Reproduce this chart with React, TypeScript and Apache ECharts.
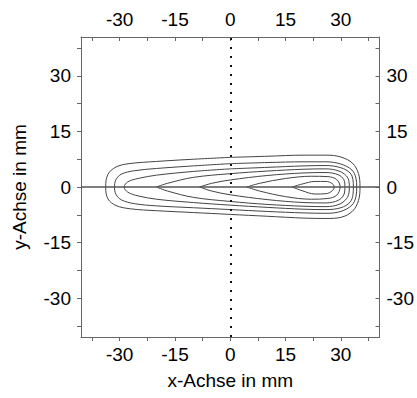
import React, { useEffect, useRef } from "react";
import * as echarts from "echarts";

const majorTicks = [-30, -15, 0, 15, 30];
const minorTicks = [-37.5, -30, -22.5, -15, -7.5, 0, 7.5, 15, 22.5, 30, 37.5];
const axisMin = -40.5;
const axisMax = 40.5;

const contour1 = [[0,8.0],[10,8.3],[20,8.6],[26,8.6],[30,8.1],[33.2,6.4],[34.8,3.6],[35.2,0],[34.8,-3.6],[33.2,-6.5],[30,-8.2],[26,-8.5],[20,-8.4],[10,-7.9],[0,-7.4],[-10,-6.9],[-20,-6.4],[-27,-5.9],[-31,-5.0],[-33.2,-3.2],[-33.8,0],[-33.2,3.4],[-31,5.4],[-27.5,6.3],[-20,6.9],[-10,7.5]];
const contour2 = [[0,6.3],[10,6.6],[20,6.8],[26,6.8],[30,6.2],[33,4.6],[34.1,2.4],[34.3,0],[34.1,-2.6],[33,-4.9],[30,-6.6],[26,-7.1],[20,-7.0],[10,-6.6],[0,-6.1],[-10,-5.6],[-20,-5.1],[-26,-4.5],[-29.5,-3.5],[-31,-2],[-31.4,0],[-31,2],[-29.5,3.5],[-26,4.4],[-20,5.0],[-10,5.7]];
const contour3 = [[0,4.9],[10,5.3],[20,5.7],[26,5.8],[30,5.2],[32.5,3.8],[33.3,1.9],[33.4,0],[33.3,-2.0],[32.5,-4.1],[30,-5.6],[26,-6.1],[20,-6.0],[10,-5.5],[0,-4.9],[-10,-4.2],[-20,-3.3],[-25,-2.4],[-27.8,-1.4],[-28.8,0],[-27.8,1.4],[-25,2.3],[-20,3.2],[-10,4.2]];
const contour4 = [[-20,0],[-17,1.0],[-10,2.6],[0,3.6],[10,4.3],[20,4.8],[26,4.9],[29.5,4.3],[31.5,3.0],[32.2,1.5],[32.3,0],[32.2,-1.6],[31.5,-3.2],[29.5,-4.7],[26,-5.3],[20,-5.2],[10,-4.7],[0,-3.9],[-10,-2.8],[-17,-1.1]];
const contour5 = [[-8.3,0],[-5,1.0],[0,1.9],[10,3.1],[20,3.8],[26,3.9],[29.3,3.3],[30.8,2.0],[31.1,0],[30.8,-2.1],[29.3,-3.6],[26,-4.3],[20,-4.2],[10,-3.4],[0,-2.1],[-5,-1.1]];
const contour6 = [[4.5,0],[8,1.0],[15,2.3],[22,2.9],[26.5,2.8],[28.9,2.0],[29.8,0],[28.9,-2.2],[26.5,-3.1],[22,-3.3],[15,-2.6],[8,-1.1]];
const contour7 = [[16.8,0],[19.5,0.8],[23,1.5],[26,1.5],[27.7,0.9],[28.2,0],[27.7,-1.0],[26,-1.8],[23,-1.9],[19.5,-1.0]];

const contours = [contour1, contour2, contour3, contour4, contour5, contour6, contour7];

const FONT = "Liberation Sans, Arial, sans-serif";
const FS = 19;

function xAxisCfg(pos: "bottom" | "top") {
  const bottom = pos === "bottom";
  return {
    type: "value",
    position: pos,
    gridIndex: 0,
    min: axisMin,
    max: axisMax,
    axisLine: { show: true, onZero: false, lineStyle: { color: "#666", width: 1 } },
    axisTick: { show: true, inside: !bottom, length: 4, customValues: minorTicks, lineStyle: { color: "#666", width: 1 } },
    axisLabel: { show: true, customValues: majorTicks, margin: 8, color: "#000", fontSize: FS, fontFamily: FONT },
    splitLine: { show: false },
    ...(bottom
      ? {
          name: "x-Achse in mm",
          nameLocation: "middle",
          nameGap: 34,
          nameTextStyle: { color: "#000", fontSize: FS, fontFamily: FONT },
        }
      : {}),
  };
}

function yAxisCfg(pos: "left" | "right") {
  const left = pos === "left";
  return {
    type: "value",
    position: pos,
    gridIndex: 0,
    min: axisMin,
    max: axisMax,
    axisLine: { show: true, onZero: false, lineStyle: { color: "#666", width: 1 } },
    axisTick: { show: true, inside: !left, length: 4, customValues: minorTicks, lineStyle: { color: "#666", width: 1 } },
    axisLabel: { show: true, customValues: majorTicks, margin: left ? 10 : 7, color: "#000", fontSize: FS, fontFamily: FONT },
    splitLine: { show: false },
    ...(left
      ? {
          name: "y-Achse in mm",
          nameLocation: "middle",
          nameGap: 52,
          nameTextStyle: { color: "#000", fontSize: FS, fontFamily: FONT },
        }
      : {}),
  };
}

export default function App() {
  const ref = useRef<HTMLDivElement>(null);
  useEffect(() => {
    if (!ref.current) return;
    const chart = echarts.init(ref.current, null, { renderer: "svg" });
    const contourSeries = contours.map((pts) => ({
      type: "line",
      xAxisIndex: 0,
      yAxisIndex: 0,
      data: [...pts, pts[0]],
      showSymbol: false,
      symbol: "none",
      smooth: 0.35,
      silent: true,
      lineStyle: { color: "#444", width: 1 },
      z: 3,
    }));
    chart.setOption({
      animation: false,
      backgroundColor: "#fff",
      grid: { left: 81, right: 34, top: 37, bottom: 61, containLabel: false },
      xAxis: [xAxisCfg("bottom"), xAxisCfg("top")],
      yAxis: [yAxisCfg("left"), yAxisCfg("right")],
      series: [
        ...contourSeries,
        {
          type: "line",
          data: [],
          xAxisIndex: 0,
          yAxisIndex: 0,
          markLine: {
            silent: true,
            symbol: "none",
            label: { show: false },
            data: [
              { yAxis: 0, lineStyle: { color: "#555", width: 1.5, type: "solid" } },
              { xAxis: 0, lineStyle: { color: "#111", width: 2, type: [2, 7] } },
            ],
          },
          z: 4,
        },
      ],
    });
    return () => chart.dispose();
  }, []);
  return (
    <div
      ref={ref}
      style={{ position: "fixed", left: 0, top: 0, width: 417, height: 398, background: "#fff" }}
    />
  );
}
